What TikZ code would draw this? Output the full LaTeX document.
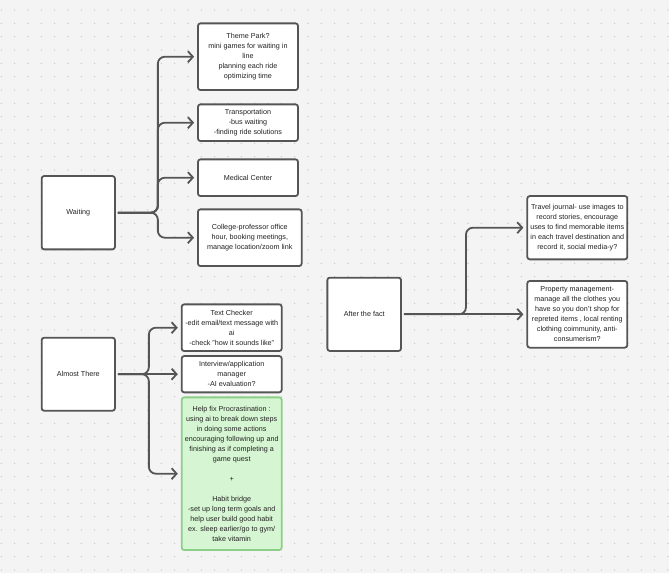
\documentclass[tikz,border=0pt]{standalone}
\usepackage{fontspec}
\setmainfont{Liberation Sans}
\usetikzlibrary{arrows.meta}
\definecolor{bg}{HTML}{F4F4F4}
\definecolor{dotc}{HTML}{C8C8C8}
\definecolor{edge}{HTML}{555555}
\definecolor{txt}{HTML}{222222}
\definecolor{gfill}{HTML}{D6F5D2}
\definecolor{gedge}{HTML}{8CCF87}
\tikzset{
  card/.style={draw=edge, line width=1.8pt, fill=white, rounded corners=2.5pt,
    align=center, text=txt, font=\fontsize{7.2}{10}\selectfont, inner sep=1pt},
  greencard/.style={card, draw=gedge, fill=gfill},
  conn/.style={draw=edge, line width=1.8pt, rounded corners=7pt,
    -{Straight Barb[length=5pt,width=11pt]}},
}
\begin{document}
\begin{tikzpicture}[x=1pt,y=-1pt]
\fill[bg] (0,0) rectangle (669,573);
\useasboundingbox (0,0) rectangle (669,573);
\foreach \i in {0,...,50}{
  \foreach \j in {0,...,42}{
    \fill[dotc] ({1.3+13.333*\i},{10+13.333*\j}) circle (0.75pt);
  }
}
% Waiting group
\node[card, minimum width=73.3pt, minimum height=73.3pt] (waiting) at (78.3,212.7) {Waiting};
\node[card, minimum width=100pt, minimum height=66.7pt] (theme) at (248,56.7)
  {Theme Park?\\mini games for waiting in\\line\\planning each ride\\optimizing time};
\node[card, minimum width=100pt, minimum height=36.7pt] (transport) at (248,122.7)
  {Transportation\\-bus waiting\\-finding ride solutions};
\node[card, minimum width=100pt, minimum height=36.7pt] (medical) at (248,177.7)
  {Medical Center};
\node[card, minimum width=103.7pt, minimum height=56.7pt] (college) at (249.8,237.7)
  {College-professor office\\hour, booking meetings,\\manage location/zoom link};
% Almost There group
\node[card, minimum width=73.3pt, minimum height=73pt] (almost) at (78.3,374.2) {Almost There};
\node[card, minimum width=100pt, minimum height=46.7pt] (textcheck) at (231.7,327.7)
  {Text Checker\\-edit email/text message with\\ai\\-check "how it sounds like"};
\node[card, minimum width=100pt, minimum height=36.3pt] (interview) at (231.7,374.2)
  {Interview/application\\manager\\-AI evaluation?};
\node[greencard, minimum width=100pt, minimum height=152.7pt] (procrast) at (231.7,473.7)
  {Help fix Procrastination :\\using ai to break down steps\\in doing some actions\\encouraging following up and\\finishing as if completing a\\game quest\\[10pt]+\\[10pt]Habit bridge\\-set up long term goals and\\help user build good habit\\ex. sleep earlier/go to gym/\\take vitamin};
% After the fact group
\node[card, minimum width=73.7pt, minimum height=73.3pt] (after) at (364.2,314.3) {After the fact};
\node[card, minimum width=100pt, minimum height=63.3pt] (travel) at (577.3,227.7)
  {Travel journal- use images to\\record stories, encourage\\uses to find memorable items\\in each travel destination and\\record it, social media-y?};
\node[card, minimum width=100pt, minimum height=66.7pt] (property) at (577.3,314.3)
  {Property management-\\manage all the clothes you\\have so you don't shop for\\repreted items , local renting\\clothing coimmunity, anti-\\consumerism?};
% connectors
\foreach \t in {theme,transport,medical,college}{
  \draw[conn] ([xshift=2pt]waiting.east) -- ([xshift=42pt]waiting.east) |- ([xshift=-3pt]\t.west);
}
\foreach \t in {textcheck,procrast}{
  \draw[conn] ([xshift=2pt]almost.east) -- ([xshift=33pt]almost.east) |- ([xshift=-3pt]\t.west);
}
\draw[conn] ([xshift=2pt]almost.east) -- ([xshift=-3pt]interview.west);
\draw[conn] ([xshift=2pt]after.east) -- ([xshift=64pt]after.east) |- ([xshift=-3pt]travel.west);
\draw[conn] ([xshift=2pt]after.east) -- ([xshift=-3pt]property.west);
\end{tikzpicture}
\end{document}
